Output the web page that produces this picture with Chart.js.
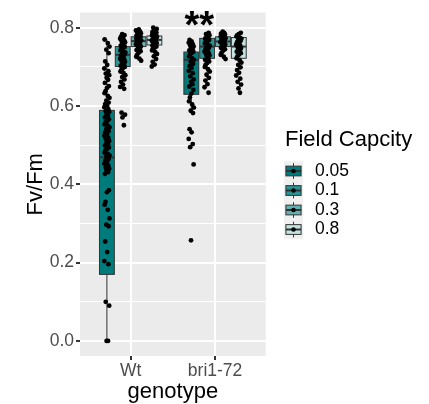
<!DOCTYPE html>
<html lang="en">
<head>
<meta charset="UTF-8">
<title>Fv/Fm by genotype</title>
<style>
  html, body { margin: 0; padding: 0; background: #ffffff; }
  .chart-wrap { position: relative; width: 429px; height: 404px; }
</style>
</head>
<body>
<div class="chart-wrap"><canvas id="chart" width="429" height="404"></canvas></div>
<script src="https://cdn.jsdelivr.net/npm/chart.js@4.4.0/dist/chart.umd.js"></script>
<script>
// Categories
const genotypes = ['Wt', 'bri1-72'];
const fieldCapacity = ['0.05', '0.1', '0.3', '0.8'];
const yTicks = [0.0, 0.2, 0.4, 0.6, 0.8];

// Box stats per field capacity, one row per genotype:
// [lower whisker, q1, median, q3, upper whisker]
const boxFc005 = [[0.000, 0.170, 0.469, 0.589, 0.770], [0.582, 0.630, 0.718, 0.738, 0.769]];
const boxFc01  = [[0.644, 0.701, 0.731, 0.752, 0.784], [0.680, 0.722, 0.752, 0.773, 0.787]];
const boxFc03  = [[0.720, 0.752, 0.766, 0.777, 0.796], [0.720, 0.752, 0.765, 0.777, 0.790]];
const boxFc08  = [[0.725, 0.756, 0.769, 0.779, 0.800], [0.680, 0.722, 0.752, 0.775, 0.787]];

// Individual Fv/Fm measurements (jittered points)
const wtFc005 = [0.770, 0.761, 0.752, 0.744, 0.735, 0.714, 0.705, 0.696, 0.689, 0.683, 0.679, 0.672, 0.667,
  0.659, 0.651, 0.646, 0.638, 0.633, 0.626, 0.621, 0.614, 0.609, 0.605, 0.600, 0.597, 0.592, 0.587, 0.585,
  0.580, 0.575, 0.571, 0.566, 0.561, 0.558, 0.553, 0.550, 0.546, 0.541, 0.536, 0.533, 0.529, 0.524, 0.519,
  0.516, 0.511, 0.507, 0.502, 0.499, 0.494, 0.490, 0.487, 0.481, 0.478, 0.474, 0.470, 0.465, 0.460, 0.457,
  0.453, 0.448, 0.443, 0.440, 0.436, 0.431, 0.427, 0.385, 0.380, 0.355, 0.348, 0.335, 0.313, 0.297, 0.293,
  0.254, 0.227, 0.204, 0.196, 0.100, 0.090, 0.000, 0.000];
const wtFc01 = [0.784, 0.781, 0.777, 0.775, 0.772, 0.768, 0.766, 0.763, 0.760, 0.758, 0.754, 0.751, 0.748,
  0.746, 0.742, 0.739, 0.737, 0.733, 0.731, 0.728, 0.725, 0.721, 0.719, 0.716, 0.713, 0.709, 0.706, 0.703,
  0.700, 0.696, 0.692, 0.688, 0.684, 0.679, 0.674, 0.668, 0.662, 0.655, 0.649, 0.644, 0.583, 0.578, 0.571, 0.551];
const wtFc03 = [0.796, 0.793, 0.790, 0.788, 0.786, 0.784, 0.782, 0.780, 0.778, 0.776, 0.774, 0.772, 0.770,
  0.768, 0.766, 0.764, 0.762, 0.760, 0.758, 0.756, 0.754, 0.752, 0.749, 0.746, 0.743, 0.740, 0.736, 0.731,
  0.726, 0.721, 0.716];
const wtFc08 = [0.800, 0.797, 0.794, 0.791, 0.789, 0.787, 0.785, 0.783, 0.781, 0.779, 0.777, 0.775, 0.773,
  0.771, 0.769, 0.767, 0.765, 0.763, 0.761, 0.759, 0.757, 0.755, 0.752, 0.749, 0.746, 0.742, 0.738, 0.733,
  0.727, 0.720, 0.713, 0.706, 0.701];
const briFc005 = [0.769, 0.765, 0.762, 0.758, 0.755, 0.752, 0.749, 0.745, 0.742, 0.739, 0.735, 0.731, 0.727,
  0.722, 0.718, 0.713, 0.708, 0.702, 0.697, 0.690, 0.684, 0.676, 0.668, 0.662, 0.656, 0.650, 0.641, 0.632,
  0.622, 0.612, 0.604, 0.596, 0.588, 0.582, 0.541, 0.533, 0.516, 0.503, 0.495, 0.451, 0.257];
const briFc01 = [0.787, 0.784, 0.781, 0.778, 0.775, 0.772, 0.769, 0.766, 0.763, 0.760, 0.757, 0.754, 0.751,
  0.748, 0.745, 0.742, 0.739, 0.736, 0.733, 0.730, 0.726, 0.722, 0.718, 0.714, 0.710, 0.706, 0.700, 0.694,
  0.688, 0.680, 0.672, 0.665, 0.656, 0.648, 0.634];
const briFc03 = [0.790, 0.787, 0.785, 0.783, 0.781, 0.779, 0.777, 0.775, 0.773, 0.771, 0.769, 0.767, 0.765,
  0.763, 0.761, 0.759, 0.757, 0.755, 0.752, 0.749, 0.745, 0.741, 0.736, 0.731, 0.726, 0.720];
const briFc08 = [0.787, 0.784, 0.781, 0.778, 0.775, 0.772, 0.769, 0.766, 0.763, 0.760, 0.757, 0.754, 0.751,
  0.748, 0.745, 0.742, 0.739, 0.735, 0.731, 0.727, 0.722, 0.717, 0.711, 0.705, 0.699, 0.692, 0.685, 0.678,
  0.670, 0.662, 0.655, 0.645, 0.634];

// Significance mark over bri1-72
const sigText = '**';
const sigAt = { x: 1.8125, y: 0.8 };

// ---- styling ----
const FONT = "'Liberation Sans', Arial, sans-serif";
const fills = ['#007b7b', '#2a9494', '#62b0b0', '#c4e3e3'];
const panelBg = '#ebebeb';
const dodge = 0.1875;     // spacing between boxes inside a genotype
const boxHalf = 0.088;    // half box width (x units)
const jitterHalf = 0.034;
const jitterPattern = [-0.8, 0.3, 0.9, -0.2, 0.6, -0.6, 0.1, -0.9, 0.5, -0.4, 0.8, -0.1, 0.4, -0.7, 0.7, 0.0, -0.5];

const boxStats = [boxFc005, boxFc01, boxFc03, boxFc08];
const points = [[wtFc005, briFc005], [wtFc01, briFc01], [wtFc03, briFc03], [wtFc08, briFc08]];

function groupX(g, d) {
  return (g + 1) + (d - 1.5) * dodge;
}

const datasets = fieldCapacity.map((fc, d) => {
  const data = [];
  points[d].forEach((vals, g) => {
    vals.forEach((v, i) => {
      const jit = jitterPattern[(i + d * 3 + g * 5) % jitterPattern.length] * jitterHalf;
      data.push({ x: groupX(g, d) + jit, y: v });
    });
  });
  return {
    label: fc,
    data: data,
    pointRadius: 2.4,
    pointBackgroundColor: '#000000',
    pointBorderWidth: 0,
    pointHoverRadius: 2.4
  };
});

// grey panel behind the grid
const panelPlugin = {
  id: 'panel',
  beforeDraw(chart) {
    const a = chart.chartArea;
    const ctx = chart.ctx;
    ctx.save();
    ctx.fillStyle = panelBg;
    ctx.fillRect(a.left, a.top, a.right - a.left, a.bottom - a.top);
    ctx.restore();
  }
};

// boxes and whiskers, drawn under the points
const boxPlugin = {
  id: 'boxes',
  beforeDatasetsDraw(chart) {
    const ctx = chart.ctx;
    const xs = chart.scales.x, ys = chart.scales.y;
    ctx.save();
    boxStats.forEach((rows, d) => {
      rows.forEach((s, g) => {
        const cx = xs.getPixelForValue(groupX(g, d));
        const x0 = xs.getPixelForValue(groupX(g, d) - boxHalf);
        const x1 = xs.getPixelForValue(groupX(g, d) + boxHalf);
        const yLo = ys.getPixelForValue(s[0]);
        const yQ1 = ys.getPixelForValue(s[1]);
        const yMed = ys.getPixelForValue(s[2]);
        const yQ3 = ys.getPixelForValue(s[3]);
        const yHi = ys.getPixelForValue(s[4]);
        ctx.strokeStyle = '#333333';
        ctx.lineWidth = 1;
        ctx.beginPath();
        ctx.moveTo(cx, yLo); ctx.lineTo(cx, yQ1);
        ctx.moveTo(cx, yQ3); ctx.lineTo(cx, yHi);
        ctx.stroke();
        ctx.fillStyle = fills[d];
        ctx.fillRect(x0, yQ3, x1 - x0, yQ1 - yQ3);
        ctx.strokeRect(x0, yQ3, x1 - x0, yQ1 - yQ3);
        ctx.lineWidth = 2;
        ctx.beginPath();
        ctx.moveTo(x0, yMed); ctx.lineTo(x1, yMed);
        ctx.stroke();
      });
    });
    ctx.restore();
  }
};

// significance stars and legend
const overlayPlugin = {
  id: 'overlay',
  afterDraw(chart) {
    const ctx = chart.ctx;
    const xs = chart.scales.x, ys = chart.scales.y;
    ctx.save();
    ctx.fillStyle = '#000000';
    ctx.font = 'bold 38px ' + FONT;
    ctx.textAlign = 'center';
    ctx.textBaseline = 'middle';
    ctx.fillText(sigText, xs.getPixelForValue(sigAt.x), ys.getPixelForValue(sigAt.y));

    // legend
    ctx.textAlign = 'left';
    ctx.font = '22px ' + FONT;
    ctx.fillText('Field Capcity', 285, 140);
    const keyX = 284, keyW = 19, rowH = 19.5, firstY = 171;
    ctx.font = '17.5px ' + FONT;
    fieldCapacity.forEach((fc, d) => {
      const cy = firstY + d * rowH;
      const top = cy - rowH / 2;
      ctx.fillStyle = '#f0f0f0';
      ctx.fillRect(keyX, top, keyW, rowH);
      const cx = keyX + keyW / 2;
      ctx.strokeStyle = '#333333';
      ctx.lineWidth = 1;
      ctx.beginPath();
      ctx.moveTo(cx, top + rowH * 0.1); ctx.lineTo(cx, top + rowH * 0.9);
      ctx.stroke();
      const bx = keyX + keyW * 0.1, bw = keyW * 0.8;
      const by = top + rowH * 0.25, bh = rowH * 0.5;
      ctx.fillStyle = fills[d];
      ctx.fillRect(bx, by, bw, bh);
      ctx.strokeRect(bx, by, bw, bh);
      ctx.lineWidth = 2;
      ctx.beginPath();
      ctx.moveTo(bx, cy); ctx.lineTo(bx + bw, cy);
      ctx.stroke();
      ctx.fillStyle = '#000000';
      ctx.beginPath();
      ctx.arc(cx, cy, 2.3, 0, Math.PI * 2);
      ctx.fill();
      ctx.fillText(fc, 315, cy);
    });
    ctx.restore();
  }
};

new Chart(document.getElementById('chart'), {
  type: 'scatter',
  data: { datasets },
  plugins: [panelPlugin, boxPlugin, overlayPlugin],
  options: {
    responsive: false,
    animation: false,
    layout: { padding: { top: 9, right: 163.3, left: 0, bottom: 0 } },
    plugins: { legend: { display: false }, tooltip: { enabled: false } },
    scales: {
      x: {
        type: 'linear',
        min: 0.4,
        max: 2.6,
        afterFit(scale) { scale.height = 48; },
        afterBuildTicks(scale) { scale.ticks = genotypes.map((g, i) => ({ value: i + 1 })); },
        ticks: {
          callback: (v) => genotypes[Math.round(v) - 1] || '',
          color: '#4d4d4d',
          font: { family: FONT, size: 17.5 },
          padding: 1,
          maxRotation: 0
        },
        grid: { color: '#ffffff', lineWidth: 2, tickColor: '#333333', tickLength: 4 },
        border: { display: false },
        title: { display: true, text: 'genotype', color: '#000000', font: { family: FONT, size: 22 }, padding: { top: 0, bottom: -1 } }
      },
      y: {
        min: -0.0385,
        max: 0.839,
        afterFit(scale) { scale.width = 80; },
        afterBuildTicks(scale) {
          const t = [];
          yTicks.forEach((v, i) => {
            t.push({ value: v, major: true });
            if (i < yTicks.length - 1) t.push({ value: v + 0.1, minor: true });
          });
          scale.ticks = t;
        },
        ticks: {
          callback: (v) => yTicks.some(t => Math.abs(t - v) < 1e-6) ? v.toFixed(1) : '',
          color: '#4d4d4d',
          font: { family: FONT, size: 17.5 },
          padding: 2
        },
        grid: {
          color: '#ffffff',
          lineWidth: (c) => (c.tick && c.tick.minor) ? 1 : 2,
          tickColor: (c) => (c.tick && c.tick.minor) ? 'rgba(0,0,0,0)' : '#333333',
          tickLength: 4
        },
        border: { display: false },
        title: { display: true, text: 'Fv/Fm', color: '#000000', font: { family: FONT, size: 22 }, padding: { top: 23, bottom: 0 } }
      }
    }
  }
});
</script>
</body>
</html>
